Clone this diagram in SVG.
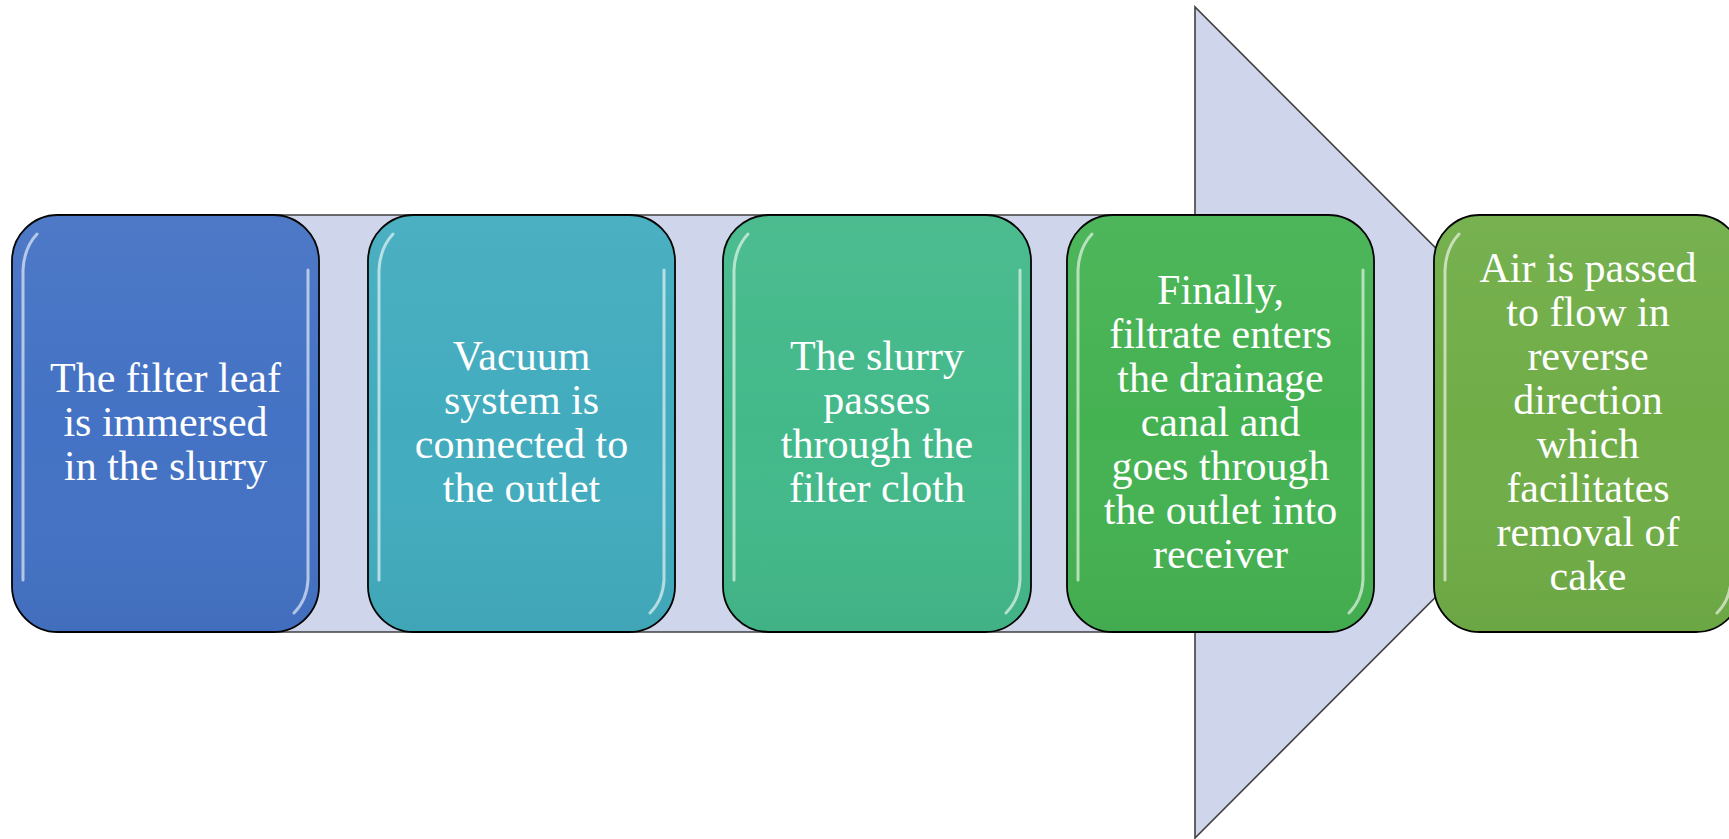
<svg xmlns="http://www.w3.org/2000/svg" width="1729" height="839" viewBox="0 0 1729 839">
  <defs>
    <linearGradient id="shine" x1="0" y1="0" x2="0" y2="1">
      <stop offset="0" stop-color="#ffffff" stop-opacity="0.05"/>
      <stop offset="0.5" stop-color="#ffffff" stop-opacity="0"/>
      <stop offset="1" stop-color="#000000" stop-opacity="0.04"/>
    </linearGradient>
  </defs>
  <style>
    .arrow { fill: #CFD5EA; stroke: #404040; stroke-width: 1.6; }
    .box { stroke: #000000; stroke-width: 1.8; }
    .gloss { fill: url(#shine); stroke: none; }
    .hl { fill: none; stroke: #ffffff; stroke-opacity: 0.6; stroke-width: 3; stroke-linecap: round; }
    .lbl { font-family: "Liberation Serif", "Times New Roman", serif; font-size: 42px; fill: #ffffff; text-anchor: middle; }
  </style>

  <g id="connectors">
    <polygon class="arrow" points="100,215 1195,215 1195,7 1610,422.5 1195,838 1195,632 100,632"/>
  </g>

  <g id="node1">
    <rect class="box" x="12" y="215" width="307" height="417" rx="46" fill="#4472C4"/>
    <rect class="gloss" x="12" y="215" width="307" height="417" rx="46"/>
    <path class="hl" d="M23,580 L23,270 Q24,248 37,234"/>
    <path class="hl" d="M308,270 L308,580 Q307,600 294,613"/>
    <text class="lbl"><tspan x="165.5" y="392">The filter leaf</tspan><tspan x="165.5" y="436">is immersed</tspan><tspan x="165.5" y="480">in the slurry</tspan></text>
  </g>

  <g id="node2">
    <rect class="box" x="368" y="215" width="307" height="417" rx="46" fill="#42ACBE"/>
    <rect class="gloss" x="368" y="215" width="307" height="417" rx="46"/>
    <path class="hl" d="M379,580 L379,270 Q380,248 393,234"/>
    <path class="hl" d="M664,270 L664,580 Q663,600 650,613"/>
    <text class="lbl"><tspan x="521.5" y="370">Vacuum</tspan><tspan x="521.5" y="414">system is</tspan><tspan x="521.5" y="458">connected to</tspan><tspan x="521.5" y="502">the outlet</tspan></text>
  </g>

  <g id="node3">
    <rect class="box" x="723" y="215" width="308" height="417" rx="46" fill="#43B98A"/>
    <rect class="gloss" x="723" y="215" width="308" height="417" rx="46"/>
    <path class="hl" d="M734,580 L734,270 Q735,248 748,234"/>
    <path class="hl" d="M1020,270 L1020,580 Q1019,600 1006,613"/>
    <text class="lbl"><tspan x="877" y="370">The slurry</tspan><tspan x="877" y="414">passes</tspan><tspan x="877" y="458">through the</tspan><tspan x="877" y="502">filter cloth</tspan></text>
  </g>

  <g id="node4">
    <rect class="box" x="1067" y="215" width="307" height="417" rx="46" fill="#45B252"/>
    <rect class="gloss" x="1067" y="215" width="307" height="417" rx="46"/>
    <path class="hl" d="M1078,580 L1078,270 Q1079,248 1092,234"/>
    <path class="hl" d="M1363,270 L1363,580 Q1362,600 1349,613"/>
    <text class="lbl"><tspan x="1220.5" y="304">Finally,</tspan><tspan x="1220.5" y="348">filtrate enters</tspan><tspan x="1220.5" y="392">the drainage</tspan><tspan x="1220.5" y="436">canal and</tspan><tspan x="1220.5" y="480">goes through</tspan><tspan x="1220.5" y="524">the outlet into</tspan><tspan x="1220.5" y="568">receiver</tspan></text>
  </g>

  <g id="node5">
    <rect class="box" x="1434" y="215" width="308" height="417" rx="46" fill="#70AD47"/>
    <rect class="gloss" x="1434" y="215" width="308" height="417" rx="46"/>
    <path class="hl" d="M1445,580 L1445,270 Q1446,248 1459,234"/>
    <path class="hl" d="M1731,270 L1731,580 Q1730,600 1717,613"/>
    <text class="lbl"><tspan x="1588" y="282">Air is passed</tspan><tspan x="1588" y="326">to flow in</tspan><tspan x="1588" y="370">reverse</tspan><tspan x="1588" y="414">direction</tspan><tspan x="1588" y="458">which</tspan><tspan x="1588" y="502">facilitates</tspan><tspan x="1588" y="546">removal of</tspan><tspan x="1588" y="590">cake</tspan></text>
  </g>
</svg>
